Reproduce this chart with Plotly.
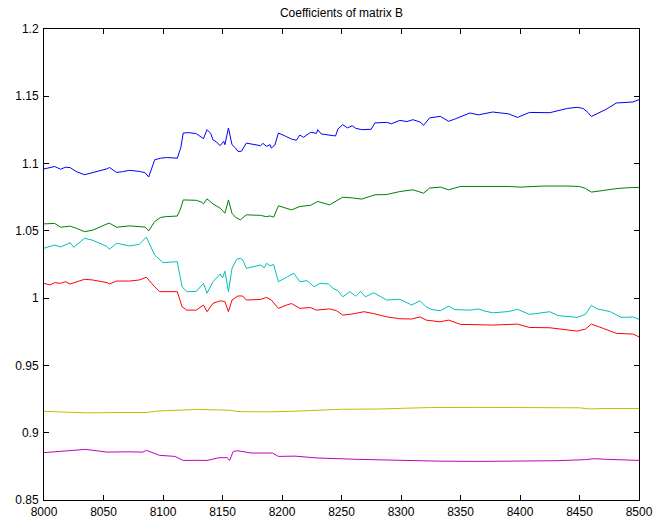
import plotly.graph_objects as go

# Coefficient traces (sample index vs value)
blue_x = [8000, 8005, 8009, 8014, 8018, 8022, 8027, 8034, 8041, 8048, 8053, 8055, 8061, 8066, 8072, 8080, 8085, 8088,
          8093, 8098, 8103, 8112, 8115, 8117, 8122, 8128, 8132, 8134, 8137, 8140, 8142, 8145, 8148, 8151, 8152, 8155,
          8158, 8161, 8163, 8166, 8170, 8176, 8182, 8184, 8187, 8190, 8191, 8194, 8197, 8203, 8208, 8212, 8215, 8218,
          8224, 8229, 8230, 8233, 8240, 8245, 8247, 8251, 8255, 8259, 8262, 8267, 8275, 8278, 8288, 8292, 8299, 8305,
          8310, 8316, 8319, 8324, 8333, 8340, 8345, 8358, 8365, 8377, 8390, 8398, 8408, 8425, 8440, 8448, 8453, 8457,
          8460, 8465, 8473, 8481, 8490, 8495, 8500]
blue_y = [1.0960, 1.0972, 1.0978, 1.0958, 1.0973, 1.0970, 1.0941, 1.0917, 1.0934, 1.0948, 1.0961, 1.0971, 1.0934,
          1.0940, 1.0950, 1.0942, 1.0932, 1.0900, 1.1028, 1.1040, 1.1045, 1.1040, 1.1120, 1.1227, 1.1230, 1.1222,
          1.1200, 1.1185, 1.1252, 1.1225, 1.1177, 1.1160, 1.1133, 1.1165, 1.1140, 1.1264, 1.1140, 1.1115, 1.1090,
          1.1092, 1.1152, 1.1140, 1.1133, 1.1150, 1.1128, 1.1140, 1.1115, 1.1138, 1.1227, 1.1203, 1.1182, 1.1173,
          1.1212, 1.1195, 1.1232, 1.1225, 1.1252, 1.1220, 1.1210, 1.1205, 1.1257, 1.1289, 1.1265, 1.1281, 1.1262,
          1.1252, 1.1255, 1.1302, 1.1306, 1.1296, 1.1321, 1.1312, 1.1326, 1.1309, 1.1284, 1.1339, 1.1351, 1.1314,
          1.1330, 1.1376, 1.1362, 1.1383, 1.1370, 1.1343, 1.1380, 1.1378, 1.1410, 1.1418, 1.1410, 1.1380, 1.1350,
          1.1370, 1.1406, 1.1450, 1.1452, 1.1458, 1.1475]

green_x = [8000, 8009, 8014, 8022, 8027, 8034, 8041, 8048, 8053, 8055, 8061, 8072, 8080, 8085, 8088, 8093, 8098, 8103,
           8112, 8115, 8117, 8128, 8132, 8134, 8137, 8142, 8148, 8152, 8155, 8158, 8161, 8165, 8170, 8182, 8187, 8190,
           8193, 8197, 8208, 8215, 8224, 8230, 8240, 8247, 8251, 8259, 8267, 8278, 8288, 8299, 8310, 8319, 8324, 8333,
           8340, 8350, 8370, 8390, 8400, 8420, 8440, 8450, 8455, 8460, 8470, 8480, 8490, 8500]
green_y = [1.0552, 1.0555, 1.0527, 1.0535, 1.0520, 1.0494, 1.0505, 1.0535, 1.0552, 1.0557, 1.0527, 1.0537, 1.0530,
           1.0528, 1.0500, 1.0569, 1.0600, 1.0606, 1.0610, 1.0670, 1.0730, 1.0727, 1.0715, 1.0701, 1.0738, 1.0700,
           1.0669, 1.0631, 1.0730, 1.0630, 1.0600, 1.0582, 1.0619, 1.0615, 1.0605, 1.0611, 1.0602, 1.0686, 1.0656,
           1.0681, 1.0690, 1.0718, 1.0693, 1.0730, 1.0750, 1.0745, 1.0736, 1.0768, 1.0770, 1.0792, 1.0805, 1.0780,
           1.0818, 1.0825, 1.0805, 1.0830, 1.0832, 1.0830, 1.0825, 1.0833, 1.0833, 1.0830, 1.0815, 1.0788, 1.0800,
           1.0813, 1.0820, 1.0823]

cyan_x = [8000, 8009, 8014, 8022, 8025, 8034, 8041, 8048, 8053, 8055, 8061, 8072, 8080, 8086, 8093, 8100, 8112, 8116,
          8120, 8128, 8134, 8137, 8142, 8148, 8150, 8152, 8155, 8158, 8162, 8165, 8167, 8170, 8182, 8185, 8187, 8190,
          8193, 8197, 8204, 8210, 8215, 8221, 8227, 8232, 8239, 8243, 8247, 8251, 8257, 8262, 8266, 8270, 8277, 8288,
          8299, 8309, 8316, 8321, 8326, 8333, 8340, 8345, 8358, 8365, 8370, 8377, 8390, 8398, 8408, 8425, 8432, 8448,
          8455, 8460, 8465, 8476, 8485, 8495, 8500]
cyan_y = [1.0371, 1.0395, 1.0380, 1.0412, 1.0378, 1.0445, 1.0430, 1.0400, 1.0383, 1.0363, 1.0408, 1.0388, 1.0400,
          1.0453, 1.0321, 1.0264, 1.0271, 1.0085, 1.0048, 1.0050, 1.0110, 1.0036, 1.0122, 1.0180, 1.0150, 1.0200,
          1.0048, 1.0222, 1.0289, 1.0296, 1.0285, 1.0222, 1.0246, 1.0225, 1.0259, 1.0240, 1.0250, 1.0122, 1.0159,
          1.0185, 1.0122, 1.0130, 1.0085, 1.0110, 1.0105, 1.0073, 1.0055, 1.0010, 1.0048, 1.0015, 1.0050, 1.0010,
          1.0040, 0.9986, 0.9991, 0.9949, 0.9981, 0.9936, 0.9915, 0.9906, 0.9941, 0.9915, 0.9911, 0.9920, 0.9905,
          0.9891, 0.9900, 0.9917, 0.9879, 0.9899, 0.9870, 0.9857, 0.9880, 0.9946, 0.9920, 0.9899, 0.9857, 0.9860,
          0.9842]

red_x = [8000, 8005, 8009, 8014, 8018, 8022, 8034, 8041, 8053, 8055, 8061, 8072, 8080, 8086, 8093, 8097, 8112, 8116,
         8120, 8128, 8134, 8137, 8142, 8148, 8152, 8155, 8158, 8163, 8167, 8170, 8182, 8187, 8191, 8197, 8204, 8208,
         8215, 8224, 8229, 8240, 8246, 8251, 8259, 8269, 8277, 8288, 8299, 8309, 8316, 8321, 8333, 8340, 8350, 8365,
         8377, 8398, 8408, 8425, 8440, 8448, 8455, 8460, 8470, 8481, 8495, 8500]
red_y = [1.0110, 1.0098, 1.0115, 1.0110, 1.0122, 1.0105, 1.0140, 1.0135, 1.0115, 1.0105, 1.0127, 1.0127, 1.0135,
         1.0155, 1.0085, 1.0048, 1.0048, 0.9936, 0.9911, 0.9911, 0.9949, 0.9899, 0.9961, 0.9980, 0.9975, 0.9899,
         0.9986, 1.0016, 1.0016, 0.9986, 0.9990, 1.0006, 0.9986, 0.9924, 0.9949, 0.9960, 0.9924, 0.9930, 0.9911,
         0.9920, 0.9906, 0.9874, 0.9882, 0.9899, 0.9885, 0.9861, 0.9847, 0.9845, 0.9861, 0.9837, 0.9824, 0.9837,
         0.9805, 0.9800, 0.9800, 0.9807, 0.9782, 0.9780, 0.9762, 0.9755, 0.9770, 0.9807, 0.9775, 0.9738, 0.9733,
         0.9712]

yellow_x = [8000, 8020, 8037, 8060, 8085, 8097, 8117, 8129, 8145, 8156, 8163, 8190, 8210, 8230, 8250, 8280, 8300,
            8324, 8364, 8397, 8431, 8450, 8458, 8471, 8500]
yellow_y = [0.9159, 0.9155, 0.9147, 0.9150, 0.9150, 0.9162, 0.9172, 0.9173, 0.9170, 0.9167, 0.9157, 0.9155, 0.9160,
            0.9167, 0.9174, 0.9176, 0.9180, 0.9187, 0.9188, 0.9187, 0.9187, 0.9185, 0.9177, 0.9180, 0.9180]

magenta_x = [8000, 8017, 8025, 8035, 8045, 8053, 8070, 8083, 8086, 8097, 8110, 8117, 8130, 8137, 8147, 8154, 8156,
             8159, 8163, 8167, 8174, 8192, 8197, 8211, 8230, 8264, 8297, 8331, 8364, 8397, 8431, 8455, 8462, 8471,
             8500]
magenta_y = [0.8852, 0.8862, 0.8865, 0.8876, 0.8865, 0.8856, 0.8858, 0.8856, 0.8869, 0.8832, 0.8824, 0.8794, 0.8795,
             0.8794, 0.8814, 0.8815, 0.8794, 0.8861, 0.8866, 0.8858, 0.8849, 0.8849, 0.8824, 0.8826, 0.8812, 0.8802,
             0.8794, 0.8789, 0.8787, 0.8789, 0.8792, 0.8800, 0.8807, 0.8803, 0.8794]

x_ticks = list(range(8000, 8501, 50))
y_ticks = [0.85, 0.9, 0.95, 1.0, 1.05, 1.1, 1.15, 1.2]
y_tick_text = ["0.85", "0.9", "0.95", "1", "1.05", "1.1", "1.15", "1.2"]

series = [
    (blue_x, blue_y, "#0000ff"),
    (green_x, green_y, "#008000"),
    (cyan_x, cyan_y, "#00bfbf"),
    (red_x, red_y, "#ff0000"),
    (yellow_x, yellow_y, "#bfbf00"),
    (magenta_x, magenta_y, "#bf00bf"),
]

fig = go.Figure()
for xs, ys, col in series:
    fig.add_trace(go.Scatter(x=xs, y=ys, mode="lines", line=dict(color=col, width=1),
                             showlegend=False, hoverinfo="skip"))

font = dict(family="Liberation Sans, Arial, sans-serif", size=12, color="#000000")
axis_common = dict(showline=True, linecolor="#000000", linewidth=1, mirror="ticks", ticks="inside",
                   ticklen=5, tickcolor="#000000", tickwidth=1, showgrid=False, zeroline=False,
                   tickfont=font, automargin=False)

fig.update_xaxes(range=[8000, 8500], tickvals=x_ticks, ticklabelstandoff=1, **axis_common)
fig.update_yaxes(range=[0.85, 1.2], tickvals=y_ticks, ticktext=y_tick_text, ticklabelstandoff=2,
                 **axis_common)

fig.update_layout(
    width=665, height=521,
    margin=dict(l=44, r=26, t=29, b=21, pad=0),
    paper_bgcolor="#ffffff", plot_bgcolor="#ffffff",
    font=font,
    title=dict(text="Coefficients of matrix B", x=0.5, xanchor="center", xref="paper",
               y=1 - 13 / 521, yanchor="middle", yref="container",
               font=dict(family="Liberation Sans, Arial, sans-serif", size=12, color="#000000"),
               automargin=False),
)

fig.write_html("out.html")
